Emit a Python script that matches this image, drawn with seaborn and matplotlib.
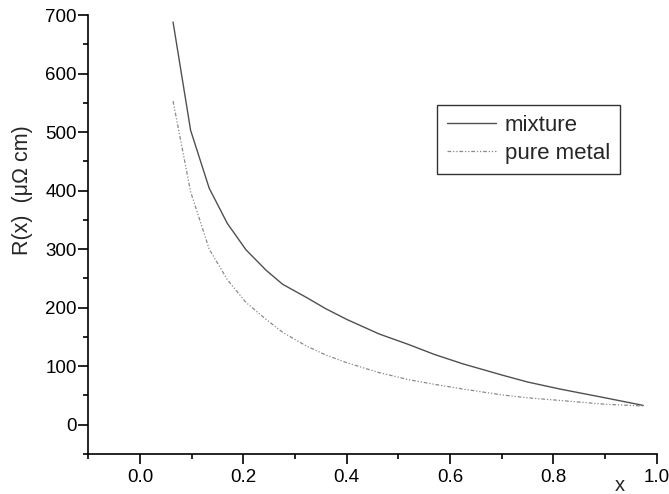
import numpy as np
import pandas as pd
import matplotlib
matplotlib.use("Agg")
import matplotlib.pyplot as plt
import seaborn as sns
from matplotlib.ticker import MultipleLocator

# concentration x
x_vals = [0.064, 0.098, 0.134, 0.169, 0.205, 0.244, 0.276, 0.321, 0.36, 0.4,
          0.463, 0.52, 0.57, 0.625, 0.7, 0.75, 0.8125, 0.9, 0.974]
# resistivity, micro-ohm cm
mixture = [688, 503, 404, 344, 299, 264, 240, 218, 198, 180,
           155, 137, 120, 104, 85, 73, 61, 46, 33]
pure_metal = [553, 398, 300, 248, 209, 180, 158, 135, 119, 106,
              89, 77, 69, 61, 51, 46, 41.5, 35, 32]

df = pd.DataFrame({"x": x_vals, "mixture": mixture, "pure metal": pure_metal})

sns.set_theme(style="ticks")
plt.rcParams["font.family"] = ["Liberation Sans", "DejaVu Sans"]

fig = plt.figure(figsize=(6.69, 4.94), dpi=100)
ax = fig.add_axes([0.132, 0.081, 0.8496, 0.8886])

sns.lineplot(data=df, x="x", y="mixture", ax=ax, color="#505050", lw=1.0,
             label="mixture", estimator=None, sort=False)
sns.lineplot(data=df, x="x", y="pure metal", ax=ax, color="#8a8a8a", lw=0.9,
             linestyle=(0, (3, 1.5, 1, 1.5, 1, 1.5)), label="pure metal",
             estimator=None, sort=False)

ax.set_xlim(-0.1, 1.0)
ax.set_ylim(-50, 700)
ax.xaxis.set_minor_locator(MultipleLocator(0.1))
ax.yaxis.set_major_locator(MultipleLocator(100))
ax.yaxis.set_minor_locator(MultipleLocator(50))
ax.set_xticks([0.0, 0.2, 0.4, 0.6, 0.8, 1.0])
ax.set_xticklabels(["0.0", "0.2", "0.4", "0.6", "0.8", "1.0"])

for side in ["top", "right"]:
    ax.spines[side].set_visible(False)
for side in ["left", "bottom"]:
    ax.spines[side].set_linewidth(1.2)
    ax.spines[side].set_color("black")

ax.tick_params(which="major", direction="out", length=7, width=1.2,
               labelsize=13.5, colors="black")
ax.tick_params(which="minor", direction="out", length=3.4, width=1.2,
               colors="black")
ax.tick_params(axis="x", which="major", pad=3.5)
ax.tick_params(axis="y", which="major", pad=1.5)

ax.set_xlabel("x", fontsize=14.5)
ax.xaxis.set_label_coords(0.935, -0.05)
ax.set_ylabel("R(x)  (\u03bc\u03a9 cm)", fontsize=15.5)
ax.yaxis.set_label_coords(-0.097, 0.6)

leg = ax.legend(loc="upper left", bbox_to_anchor=(0.613, 0.795), borderaxespad=0,
                fontsize=16, frameon=True, fancybox=False, edgecolor="black",
                handlelength=2.2, handletextpad=0.4, labelspacing=0.3,
                borderpad=0.45)
leg.get_frame().set_linewidth(1.0)

fig.savefig("out.png", dpi=100)
